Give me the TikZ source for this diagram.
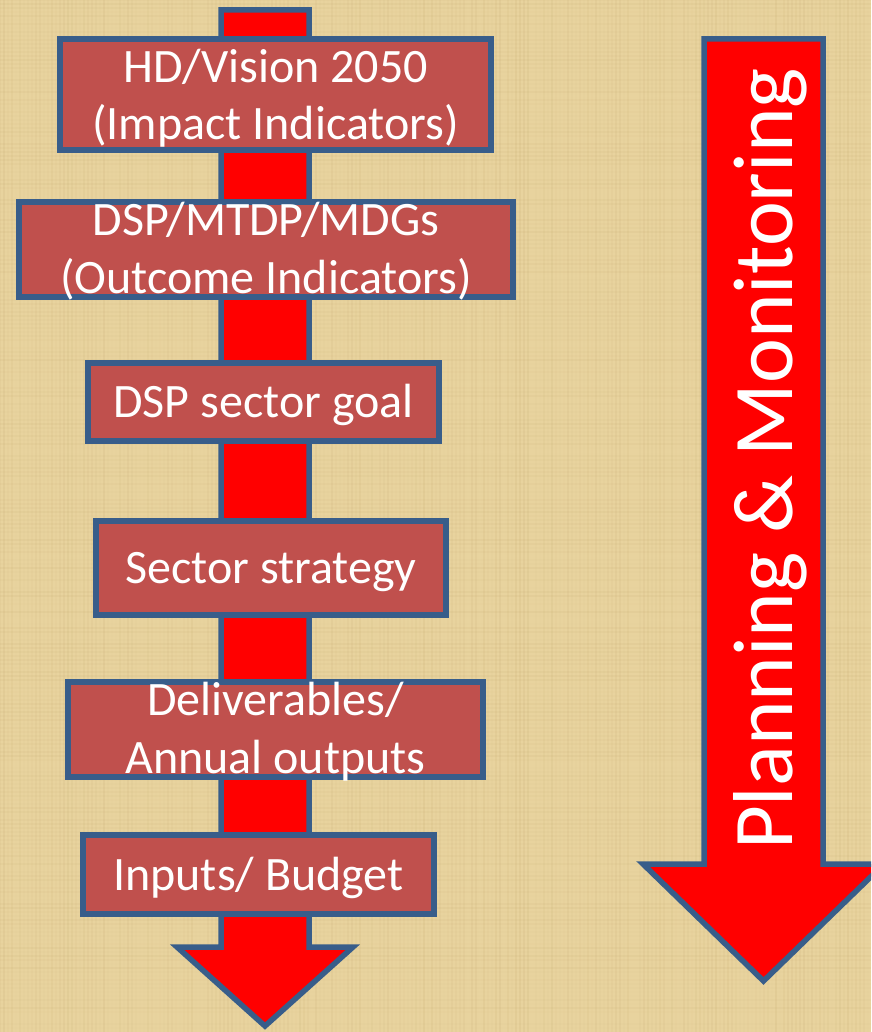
\documentclass[tikz,border=0pt]{standalone}
\usepackage{fontspec}
\setmainfont{Carlito}
\definecolor{paper}{RGB}{232,211,158}
\definecolor{fibre}{RGB}{176,146,86}
\definecolor{boxred}{RGB}{192,80,77}
\definecolor{rim}{RGB}{56,93,138}
\begin{document}
\begin{tikzpicture}[x=1pt,y=-1pt,
	box/.style={draw=rim, line width=5.5pt, fill=boxred, text=white, align=center, inner sep=0pt,
		font=\fontsize{48}{57.5}\selectfont},
	oneline/.style={text height=31pt, text depth=0pt},
	twoline/.style={text height=#1, text depth=0pt},
	bigarrow/.style={draw=rim, line width=5.5pt, fill=red, line join=miter}]
	\clip (0,0) rectangle (871,1032);
	\fill[paper] (0,0) rectangle (871,1032);
	\pgfmathsetseed{11}
	\foreach \i in {0,...,217}
		{\pgfmathsetmacro\op{0.10*rnd}
		\draw[fibre, line width=1.6pt, opacity=\op] (4*\i,0) -- (4*\i,1032);}
	\foreach \j in {0,...,257}
		{\pgfmathsetmacro\op{0.08*rnd}
		\draw[fibre, line width=1.6pt, opacity=\op] (0,4*\j) -- (871,4*\j);}
	\draw[bigarrow] (221,10) -- (309,10) -- (309,947) -- (353,947) -- (265,1026) -- (177,947) -- (221,947) -- cycle;
	\draw[bigarrow] (704,39) -- (823,39) -- (823,864) -- (884,864) -- (763.5,981) -- (643,864) -- (704,864) -- cycle;
	\node[box, twoline=91pt, minimum width=431pt, minimum height=111pt] (vision) at (275.5,94.5) {HD/Vision 2050\\(Impact Indicators)};
	\node[box, twoline=87pt, minimum width=494pt, minimum height=95pt] (dsp) at (266,249.5) {DSP/MTDP/MDGs\\(Outcome Indicators)};
	\node[box, oneline, minimum width=351pt, minimum height=78pt] (goal) at (263.5,402) {DSP sector goal};
	\node[box, oneline, minimum width=350pt, minimum height=94pt] (strategy) at (271,568) {Sector strategy};
	\node[box, twoline=87pt, minimum width=415pt, minimum height=95pt] (outputs) at (275.5,729.5) {Deliverables/\\Annual outputs};
	\node[box, oneline, minimum width=351pt, minimum height=79pt] (inputs) at (258.5,874.5) {Inputs/ Budget};
	\node[rotate=90, anchor=base, inner sep=0pt, text=white, font=\fontsize{85}{100}\selectfont] (planmon) at (792,459) {Planning \& Monitoring};
\end{tikzpicture}
\end{document}
